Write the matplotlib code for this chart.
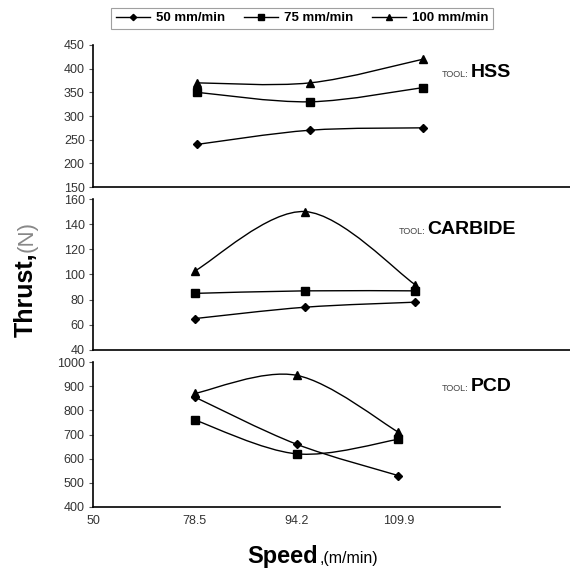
import numpy as np
import matplotlib
matplotlib.use("Agg")
import matplotlib.pyplot as plt
from matplotlib.path import Path
from matplotlib.patches import PathPatch
from matplotlib.lines import Line2D

plt.rcParams['font.family'] = ['Liberation Sans', 'DejaVu Sans']

# data
speeds = ['50', '78.5', '94.2', '109.9']
feeds = ['50 mm/min', '75 mm/min', '100 mm/min']
markers = ['D', 's', '^']
msizes = [4, 6, 6]

hss = [[240, 270, 275], [350, 330, 360], [370, 370, 420]]
carbide = [[65, 74, 78], [85, 87, 87], [103, 150, 92]]
pcd = [[855, 660, 530], [760, 620, 680], [870, 945, 710]]

tools = ['HSS', 'CARBIDE', 'PCD']
ylims = [(150, 450), (40, 160), (400, 1000)]
ysteps = [50, 20, 100]


def smooth_path(x, y):
    # Excel-style smoothed line as cubic bezier segments
    pts = np.column_stack([x, y]).astype(float)
    n = len(pts)
    verts = [pts[0]]
    codes = [Path.MOVETO]
    for i in range(n - 1):
        p0 = pts[max(i - 1, 0)]
        p1 = pts[i]
        p2 = pts[i + 1]
        p3 = pts[min(i + 2, n - 1)]
        c1 = p1 + (p2 - p0) / 6
        c2 = p2 - (p3 - p1) / 6
        verts += [c1, c2, p2]
        codes += [Path.CURVE4] * 3
    return Path(verts, codes)


fig = plt.figure(figsize=(5.7, 5.73), dpi=100)

# axes placement [left, bottom, width, height] in figure fraction
rects = [
    [0.1632, 0.6736, 0.8368, 0.2479],
    [0.1632, 0.3892, 0.8368, 0.2635],
    [0.1632, 0.1152, 0.7140, 0.2530],
]
xlims = [(0.08, 4.30), (0.07, 4.41), (0, 4)]
data = [hss, carbide, pcd]

axes = []
for k in range(3):
    ax = fig.add_axes(rects[k])
    axes.append(ax)
    xs = np.arange(1, 4)
    for j in range(3):
        ax.add_patch(PathPatch(smooth_path(xs, data[k][j]), fill=False,
                               edgecolor='black', lw=1.0))
        ax.plot(xs, data[k][j], linestyle='none', marker=markers[j],
                ms=msizes[j], color='black')
    ax.set_xlim(*xlims[k])
    ax.set_ylim(*ylims[k])
    ax.set_yticks(np.arange(ylims[k][0], ylims[k][1] + 1, ysteps[k]))
    ax.tick_params(axis='y', labelsize=9, length=3, width=0.8,
                   colors='#555555', labelcolor='#333333', pad=3)
    for s in ['top', 'right']:
        ax.spines[s].set_visible(False)
    ax.spines['left'].set_linewidth(1.2)
    ax.spines['bottom'].set_linewidth(1.2)
    if k < 2:
        ax.set_xticks([])
    else:
        ax.set_xticks(range(len(speeds)))
        ax.set_xticklabels(speeds)
        ax.tick_params(axis='x', labelsize=9, length=0, labelcolor='#333333',
                       pad=6)

# tool labels
tool_pos = [(0.822, 0.866), (0.746, 0.591), (0.822, 0.317)]
for (tx, ty), name in zip(tool_pos, tools):
    fig.text(tx, ty, 'TOOL:', fontsize=6.5, color='#444444',
             ha='right', va='baseline')
    fig.text(tx + 0.003, ty, name, fontsize=14, fontweight='bold',
             ha='left', va='baseline')

# axis titles
fig.text(0.046, 0.486, 'Thrust,', rotation=90, fontsize=18,
         fontweight='bold', ha='center', va='center')
fig.text(0.048, 0.588, '(N)', rotation=90, fontsize=16, color='#888888',
         ha='center', va='center')
fig.text(0.495, 0.018, 'Speed', fontsize=17, fontweight='bold',
         ha='center', va='baseline')
fig.text(0.56, 0.018, ',(m/min)', fontsize=11.5, ha='left', va='baseline')

# legend
handles = [Line2D([], [], color='black', lw=1.0, marker=m, ms=s * 0.8)
           for m, s in zip(markers, msizes)]
leg = fig.legend(handles, feeds, loc='center', bbox_to_anchor=(0.53, 0.968),
                 ncol=3, frameon=True, fancybox=False, edgecolor='#888888',
                 prop={'weight': 'bold', 'size': 9.5}, handlelength=2.6,
                 columnspacing=1.4, handletextpad=0.45, borderpad=0.35)
leg.get_frame().set_linewidth(0.8)

fig.savefig('out.png', dpi=100)
